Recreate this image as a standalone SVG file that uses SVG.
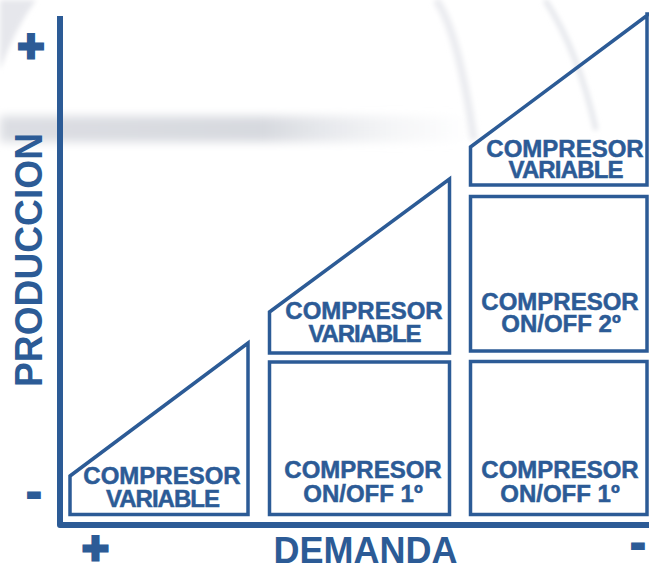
<svg xmlns="http://www.w3.org/2000/svg" width="649" height="565" viewBox="0 0 649 565">
  <defs>
    <filter id="soft" x="-20%" y="-50%" width="140%" height="200%">
      <feGaussianBlur stdDeviation="5"/>
    </filter>
    <filter id="softer" x="-20%" y="-20%" width="140%" height="140%">
      <feGaussianBlur stdDeviation="2.5"/>
    </filter>
    <linearGradient id="bandFade" x1="0" y1="0" x2="1" y2="0">
      <stop offset="0" stop-color="#dcdee3"/>
      <stop offset="0.55" stop-color="#d7d9df"/>
      <stop offset="1" stop-color="#eef0f3" stop-opacity="0"/>
    </linearGradient>
  </defs>
  <style>
    .frame { fill: none; stroke: #2c5b96; stroke-width: 3.5; stroke-linejoin: miter; }
    .axis { fill: none; stroke: #2c5b96; stroke-width: 6; stroke-linejoin: round; }
    .lbl { font-family: "Liberation Sans", Arial, sans-serif; font-weight: bold; font-size: 24px; fill: #2c5b96; stroke: #2c5b96; stroke-width: 0.5; text-anchor: middle; }
    .title { font-family: "Liberation Sans", Arial, sans-serif; font-weight: bold; fill: #2c5b96; text-anchor: middle; }
    .sign { font-family: "Liberation Sans", Arial, sans-serif; font-weight: bold; font-size: 46px; fill: #2c5b96; stroke: #2c5b96; text-anchor: middle; }
  </style>

  <rect width="649" height="565" fill="#ffffff"/>

  <!-- faint glossy ring behind the chart -->
  <g id="backdrop">
    <rect x="0" y="116" width="480" height="26" fill="url(#bandFade)" filter="url(#soft)"/>
    <path d="M0,0 L36,0 Q14,30 0,70 Z" fill="#e6e7ec" filter="url(#softer)"/>
    <path d="M436,0 Q458,30 474,140" fill="none" stroke="#ebecf0" stroke-width="8" filter="url(#softer)"/>
    <path d="M545,0 Q578,50 596,130" fill="none" stroke="#e4e6eb" stroke-width="5" filter="url(#softer)"/>
  </g>

  <!-- axes -->
  <g id="axes">
    <path class="axis" d="M60,16 L60,525 L649,525"/>
  </g>

  <!-- axis labels -->
  <g id="axis-labels">
    <text class="title" font-size="38" textLength="254" lengthAdjust="spacingAndGlyphs" transform="translate(42,260) rotate(-90)">PRODUCCION</text>
    <text class="title" font-size="36" x="365.5" y="562.5">DEMANDA</text>
    <text class="sign" stroke-width="3" x="31" y="62">+</text>
    <text class="sign" stroke-width="2" x="34" y="506.5">-</text>
    <text class="sign" stroke-width="3" x="95.5" y="564">+</text>
    <text class="sign" stroke-width="2" x="638" y="557.5">-</text>
  </g>

  <!-- first stage: variable compressor alone -->
  <g id="stage1-variable">
    <polygon class="frame" points="70,514.5 70,476 248,343 248,514.5"/>
    <text class="lbl" x="162" y="484">COMPRESOR</text>
    <text class="lbl" x="163" y="507" textLength="114" lengthAdjust="spacing">VARIABLE</text>
  </g>

  <!-- second stage -->
  <g id="stage2-variable">
    <polygon class="frame" points="269.5,353 269.5,312 449.5,179 449.5,353"/>
    <text class="lbl" x="364" y="319">COMPRESOR</text>
    <text class="lbl" x="365" y="342" textLength="113" lengthAdjust="spacing">VARIABLE</text>
  </g>
  <g id="stage2-onoff1">
    <rect class="frame" x="269.5" y="362" width="180" height="152.5"/>
    <text class="lbl" x="363" y="478">COMPRESOR</text>
    <text class="lbl" x="363" y="502">ON/OFF 1º</text>
  </g>

  <!-- third stage -->
  <g id="stage3-variable">
    <polygon class="frame" points="470.5,185 470.5,147 649,14 647,14 647,185"/>
    <text class="lbl" x="565" y="157">COMPRESOR</text>
    <text class="lbl" x="566" y="178" textLength="115" lengthAdjust="spacing">VARIABLE</text>
  </g>
  <g id="stage3-onoff2">
    <rect class="frame" x="470.5" y="196.5" width="176.5" height="154.5"/>
    <text class="lbl" x="560" y="310">COMPRESOR</text>
    <text class="lbl" x="561" y="332">ON/OFF 2º</text>
  </g>
  <g id="stage3-onoff1">
    <rect class="frame" x="470.5" y="361.5" width="176.5" height="153"/>
    <text class="lbl" x="560" y="478">COMPRESOR</text>
    <text class="lbl" x="560" y="502">ON/OFF 1º</text>
  </g>

  <g id="connectors"/>
</svg>
